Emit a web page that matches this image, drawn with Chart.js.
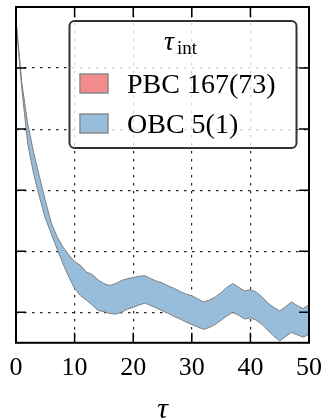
<!DOCTYPE html>
<html>
<head>
<meta charset="utf-8">
<script src="https://cdn.jsdelivr.net/npm/chart.js@4.4.0/dist/chart.umd.min.js"></script>
<style>
  html, body { margin: 0; padding: 0; background: #fff; }
  #wrap { width: 325px; height: 420px; }
</style>
</head>
<body>
<div id="wrap"><canvas id="tau-chart" width="325" height="420"></canvas></div>
<script>
// lag tau, and lower / upper edge of the OBC error band (log-ish units)
const taus = [0, 1, 2, 3, 4, 5, 6, 7, 8, 9, 10, 11, 12, 13, 14, 15, 16, 17, 18, 19, 20,
    21, 22, 23, 24, 25, 26, 27, 28, 29, 30, 31, 32, 33, 34, 35, 36, 37, 38, 39, 40,
    41, 42, 43, 44, 45, 46, 47, 48, 49, 50];
const obcLower = [4.75, 3.65, 2.76, 2.27, 1.89, 1.54, 1.29, 1.04, 0.80, 0.58, 0.39,
    0.27, 0.20, 0.12, 0.03, 0.01, -0.02, -0.03, 0.00, 0.05, 0.08,
    0.12, 0.15, 0.11, 0.07, 0.02, -0.02, -0.07, -0.11, -0.16, -0.20,
    -0.24, -0.28, -0.25, -0.20, -0.13, -0.06, 0.00, -0.05, -0.11, -0.09,
    -0.13, -0.20, -0.30, -0.39, -0.47, -0.40, -0.33, -0.37, -0.41, -0.36];
const obcUpper = [4.80, 3.75, 3.09, 2.62, 2.22, 1.83, 1.47, 1.24, 1.07, 0.94, 0.83,
    0.77, 0.66, 0.62, 0.53, 0.47, 0.44, 0.47, 0.52, 0.55, 0.57,
    0.59, 0.60, 0.55, 0.51, 0.48, 0.43, 0.39, 0.34, 0.30, 0.27,
    0.22, 0.17, 0.20, 0.25, 0.32, 0.41, 0.47, 0.41, 0.35, 0.37,
    0.33, 0.25, 0.15, 0.08, 0.02, 0.09, 0.17, 0.11, 0.06, 0.13];

const seriesLabels = ['PBC 167(73)', 'OBC 5(1)'];
const seriesColors = ['#F28B8B', '#97BDDB'];
const xTickValues = [0, 10, 20, 30, 40, 50];
const yGridValues = [0, 1, 2, 3, 4];

const SERIF = "'Liberation Serif', 'DejaVu Serif', serif";

function toPoints(ys) {
    return taus.map((t, i) => ({ x: t, y: ys[i] }));
}

// frame with inward ticks on all four sides
const frameTicks = {
    id: 'frameTicks',
    afterDraw(chart) {
        const { ctx, chartArea: a, scales } = chart;
        ctx.save();
        ctx.strokeStyle = '#000';
        ctx.lineWidth = 1.5;
        const len = 10;
        xTickValues.slice(1, -1).forEach(v => {
            const px = scales.x.getPixelForValue(v);
            ctx.beginPath();
            ctx.moveTo(px, a.bottom); ctx.lineTo(px, a.bottom - len);
            ctx.moveTo(px, a.top); ctx.lineTo(px, a.top + len);
            ctx.stroke();
        });
        yGridValues.forEach(v => {
            const py = scales.y.getPixelForValue(v);
            ctx.beginPath();
            ctx.moveTo(a.left, py); ctx.lineTo(a.left + len, py);
            ctx.moveTo(a.right, py); ctx.lineTo(a.right - len, py);
            ctx.stroke();
        });
        ctx.lineWidth = 2;
        ctx.strokeRect(a.left, a.top, a.right - a.left, a.bottom - a.top);
        ctx.restore();
    }
};

// legend box in the upper right, tau_int title with subscript
const bandLegend = {
    id: 'bandLegend',
    afterDraw(chart) {
        const ctx = chart.ctx;
        ctx.save();
        ctx.textAlign = 'left';
        ctx.beginPath();
        ctx.roundRect(69.5, 21, 227, 127, 5);
        ctx.fillStyle = 'rgba(255,255,255,0.8)';
        ctx.fill();
        ctx.lineWidth = 2;
        ctx.strokeStyle = '#333';
        ctx.stroke();

        ctx.fillStyle = '#000';
        ctx.textBaseline = 'alphabetic';
        ctx.font = 'italic 28px ' + SERIF;
        ctx.fillText('τ', 164, 50);
        ctx.font = '19px ' + SERIF;
        ctx.fillText('int', 177, 54);

        seriesLabels.forEach((label, i) => {
            const top = 74 + i * 40;
            ctx.fillStyle = seriesColors[i];
            ctx.fillRect(80, top, 28, 19);
            ctx.lineWidth = 1.5;
            ctx.strokeStyle = '#8a8a8a';
            ctx.strokeRect(80, top, 28, 19);
            ctx.fillStyle = '#000';
            ctx.font = '28px ' + SERIF;
            ctx.fillText(label, 127, top + 19);
        });
        ctx.restore();
    }
};

const gridStyle = { color: '#222', lineWidth: 1.2, drawTicks: false };
const gridBorder = { display: false, dash: [2.5, 5.5] };

new Chart(document.getElementById('tau-chart'), {
    type: 'line',
    data: {
        datasets: [
            {
                label: seriesLabels[0],
                data: [],
                backgroundColor: seriesColors[0],
                borderColor: '#8a8a8a'
            },
            {
                label: 'OBC lower',
                data: toPoints(obcLower),
                borderColor: '#808080',
                borderWidth: 1,
                pointRadius: 0,
                fill: false
            },
            {
                label: seriesLabels[1],
                data: toPoints(obcUpper),
                borderColor: '#808080',
                borderWidth: 1,
                pointRadius: 0,
                backgroundColor: seriesColors[1],
                fill: '-1'
            }
        ]
    },
    options: {
        responsive: false,
        animation: false,
        layout: { padding: { left: 16, right: 16, top: 7, bottom: 0 } },
        plugins: {
            legend: { display: false },
            tooltip: { enabled: false }
        },
        scales: {
            x: {
                type: 'linear',
                min: 0,
                max: 50,
                grid: gridStyle,
                border: gridBorder,
                afterBuildTicks: scale => { scale.ticks = xTickValues.map(v => ({ value: v })); },
                afterFit: scale => { scale.paddingLeft = 0; scale.paddingRight = 0; },
                ticks: {
                    color: '#000',
                    padding: 9.5,
                    maxRotation: 0,
                    font: { family: SERIF, size: 26 }
                },
                title: {
                    display: true,
                    text: 'τ',
                    color: '#000',
                    padding: { top: 7, bottom: 0 },
                    font: { family: SERIF, size: 30, style: 'italic', lineHeight: 0.667 }
                }
            },
            y: {
                type: 'linear',
                min: -0.5,
                max: 5,
                grid: gridStyle,
                border: gridBorder,
                afterBuildTicks: scale => { scale.ticks = yGridValues.map(v => ({ value: v })); },
                ticks: { display: false }
            }
        }
    },
    plugins: [frameTicks, bandLegend]
});
</script>
</body>
</html>
